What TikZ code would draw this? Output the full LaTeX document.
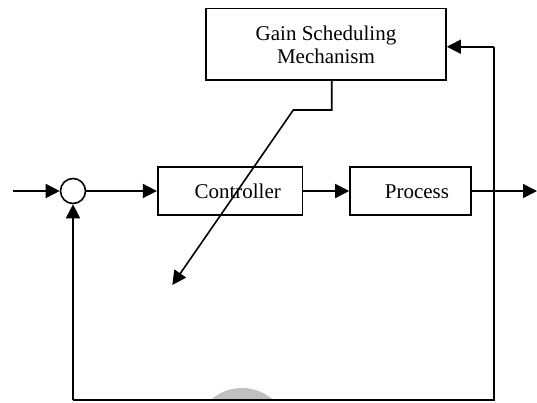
\documentclass[tikz,border=0pt]{standalone}
\usepackage{fontspec}
\setmainfont{Liberation Serif}
\usetikzlibrary{arrows.meta}
\definecolor{wm}{HTML}{C0C0C0}
\begin{document}
\begin{tikzpicture}[x=1pt,y=-1pt,
  ln/.style={line width=1.6pt},
  arr/.style={ln,-{Triangle[length=14pt,width=14pt]}},
  blk/.style={draw,line width=1.6pt,inner sep=0pt,minimum width=#1,minimum height=47.6pt},
  lbl/.style={anchor=base,font=\fontsize{21}{24}\selectfont,inner sep=0pt}]
\useasboundingbox (0,0) rectangle (537,402);
% grey mark at the bottom
\begin{scope}
  \clip (0,0) rectangle (537,400);
  \fill[wm] (242,435) circle (47);
\end{scope}
% blocks
\node[draw,line width=1.6pt,inner sep=0pt,minimum width=240.3pt,minimum height=71.7pt] (gain) at (325.9,44.2) {};
\node[lbl] (gainA) at (326,40) {Gain Scheduling};
\node[lbl] (gainB) at (326,63.4) {Mechanism};
\node[blk=144.6pt] (ctrl) at (230,191) {};
\node[lbl] (ctrlT) at (237.7,198.3) {Controller};
\node[blk=120.7pt] (proc) at (410.35,191) {};
\node[lbl] (procT) at (417,198.3) {Process};
\node[draw,circle,line width=1.6pt,inner sep=0pt,minimum size=25pt] (sum) at (73,191) {};
% coordinates
\coordinate (in) at (13,191);
\coordinate (out) at (537,191);
\coordinate (tr) at (494,46.7);
\coordinate (br) at (494,400);
\coordinate (bl) at (73,400);
\coordinate (g1) at (331.7,110);
\coordinate (g2) at (293.3,110);
\coordinate (tip) at (172.3,285);
% signal path
\draw[arr] (in) -- (sum.west);
\draw[arr] (sum.east) -- (ctrl.west);
\draw[arr] (ctrl.east) -- (proc.west);
\draw[arr] (proc.east) -- (out);
% feedback
\draw[arr] (bl) -- (sum.south);
\draw[ln] (bl) -- (br) -- (tr);
\draw[arr] (tr) -- (tr -| gain.east);
% scheduling
\draw[arr] (g1 |- gain.south) -- (g1) -- (g2) -- (tip);
\end{tikzpicture}
\end{document}
